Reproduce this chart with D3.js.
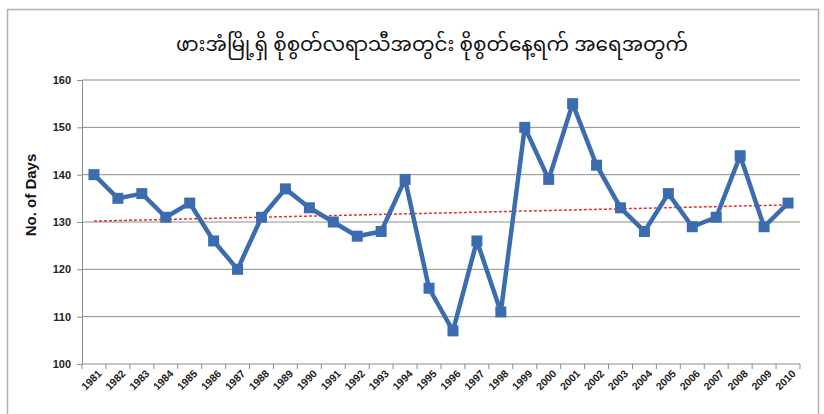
<!DOCTYPE html>
<html>
<head>
<meta charset="utf-8">
<script src="https://cdn.jsdelivr.net/npm/d3@7"></script>
<style>
body { margin: 0; background: #fff; }
svg text { font-family: "Liberation Sans", Arial, sans-serif; }
</style>
</head>
<body>
<div id="chart"></div>
<script>
var years = ["1981","1982","1983","1984","1985","1986","1987","1988","1989","1990",
  "1991","1992","1993","1994","1995","1996","1997","1998","1999","2000",
  "2001","2002","2003","2004","2005","2006","2007","2008","2009","2010"];
var days = [140,135,136,131,134,126,120,131,137,133,
  130,127,128,139,116,107,126,111,150,139,
  155,142,133,128,136,129,131,144,129,134];
var yTicks = [100,110,120,130,140,150,160];
var title = "ဖားအံမြို့ရှိ စိုစွတ်လရာသီအတွင်း စိုစွတ်နေ့ရက် အရေအတွက်";
var yLabel = "No. of Days";

var width = 824, height = 414;
var plotL = 82, plotR = 800, plotT = 80, plotB = 364;

var svg = d3.select("#chart").append("svg").attr("width", width).attr("height", height);

// chart frame
svg.append("rect").attr("x", 7.5).attr("y", 9.5).attr("width", 811).attr("height", 420)
  .attr("fill", "none").attr("stroke", "#b0b0b0").attr("stroke-width", 1.5);

var x = d3.scaleBand().domain(years).range([plotL, plotR]);
var y = d3.scaleLinear().domain([100, 160]).range([plotB, plotT]);

// grid
svg.append("g").selectAll("line").data(yTicks.slice(1)).enter().append("line")
  .attr("x1", plotL).attr("x2", plotR)
  .attr("y1", d => y(d)).attr("y2", d => y(d))
  .attr("stroke", "#8c8c8c").attr("stroke-width", 1);

// y axis
var yAxis = svg.append("g").attr("transform", "translate(" + plotL + ",0)")
  .call(d3.axisLeft(y).tickValues(yTicks).tickSize(5).tickPadding(6));
yAxis.select(".domain").attr("stroke", "#8c8c8c");
yAxis.selectAll(".tick line").attr("stroke", "#8c8c8c");
yAxis.selectAll(".tick text").attr("font-size", 11).attr("font-weight", "bold").attr("fill", "#222");

// x axis: ticks on category boundaries
var xg = svg.append("g").attr("transform", "translate(0," + plotB + ")");
xg.append("line").attr("x1", plotL).attr("x2", plotR).attr("stroke", "#8c8c8c");
xg.selectAll(".bt").data(years.concat([null])).enter().append("line")
  .attr("x1", (d, i) => plotL + i * x.step()).attr("x2", (d, i) => plotL + i * x.step())
  .attr("y1", 0).attr("y2", 5).attr("stroke", "#8c8c8c");
xg.selectAll("text").data(years).enter().append("text")
  .attr("transform", d => "translate(" + (x(d) + x.bandwidth() / 2 + 3) + ",5) rotate(-45)")
  .attr("text-anchor", "end").attr("dy", "0.72em")
  .attr("font-size", 10.5).attr("font-weight", "bold").attr("fill", "#222")
  .text(d => d);

// linear trend
var n = days.length, mx = (n - 1) / 2, my = d3.mean(days);
var sxy = d3.sum(days, (v, i) => (i - mx) * (v - my));
var sxx = d3.sum(days, (v, i) => (i - mx) * (i - mx));
var slope = sxy / sxx, icpt = my - slope * mx;
var cx = d => x(d) + x.bandwidth() / 2;
svg.append("line")
  .attr("x1", cx(years[0])).attr("y1", y(icpt))
  .attr("x2", cx(years[n - 1])).attr("y2", y(icpt + slope * (n - 1)))
  .attr("stroke", "#e0302a").attr("stroke-width", 1.5).attr("stroke-dasharray", "3,2");

// series
var line = d3.line().x((d, i) => cx(years[i])).y(d => y(d));
svg.append("path").datum(days).attr("d", line)
  .attr("fill", "none").attr("stroke", "#3b6cb0").attr("stroke-width", 4.5)
  .attr("stroke-linejoin", "round");
svg.append("g").selectAll("rect").data(days).enter().append("rect")
  .attr("x", (d, i) => cx(years[i]) - 5.5).attr("y", d => y(d) - 5.5)
  .attr("width", 11).attr("height", 11).attr("fill", "#3b6cb0");

// titles
svg.append("text").attr("x", 432).attr("y", 51).attr("text-anchor", "middle")
  .attr("font-size", 20).attr("fill", "#111")
  .style("font-family", "'Noto Sans Myanmar', 'Padauk', 'Myanmar Text', sans-serif")
  .text(title);
svg.append("text").attr("transform", "translate(36,195) rotate(-90)")
  .attr("text-anchor", "middle").attr("font-size", 15).attr("font-weight", "bold").attr("fill", "#111")
  .text(yLabel);
</script>
</body>
</html>
